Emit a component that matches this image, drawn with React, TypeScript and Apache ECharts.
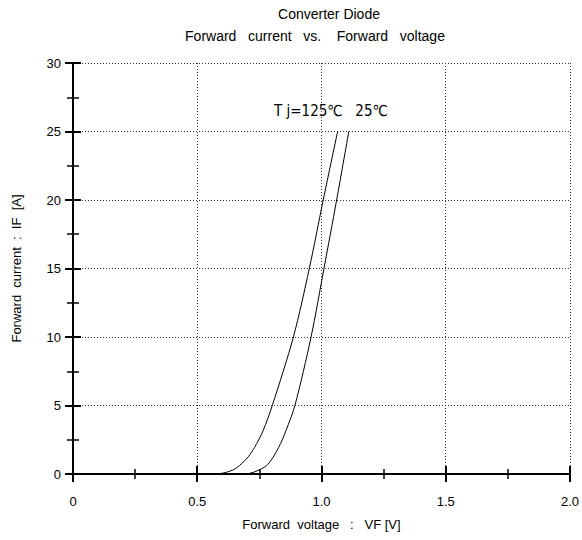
import React, { useEffect, useRef } from "react";
import * as echarts from "echarts";

const titleLines = ["Converter Diode", "Forward   current   vs.    Forward   voltage"];
const xAxisName = "Forward  voltage   :   VF [V]";
const yAxisName = "Forward  current  :  IF  [A]";
const xTicks = [0, 0.5, 1.0, 1.5, 2.0];
const xTickLabels = ["0", "0.5", "1.0", "1.5", "2.0"];
const yTicks = [0, 5, 10, 15, 20, 25, 30];
const tempLabel = "T j=125℃   25℃";

// Forward voltage (V) vs forward current (A)
const vf125 = [0.55, 0.59, 0.612, 0.65, 0.677, 0.705, 0.731, 0.765, 0.802, 0.887, 0.951, 1.007, 1.065];
const if125 = [0, 0.03, 0.1, 0.35, 0.73, 1.25, 1.95, 3.16, 5, 10, 15, 20, 25];
const vf25 = [0.69, 0.712, 0.75, 0.786, 0.828, 0.857, 0.893, 0.958, 1.01, 1.061, 1.11];
const if25 = [0, 0.05, 0.3, 0.73, 1.95, 3.16, 5, 10, 15, 20, 25];

const FONT = "'Liberation Sans', Arial, sans-serif";

export default function App() {
  const ref = useRef<HTMLDivElement>(null);
  useEffect(() => {
    if (!ref.current) return;
    const chart = echarts.init(ref.current, null, { renderer: "svg" });
    const grid = { left: 73, right: 11, top: 63, bottom: 66 };
    const axisLine = { show: true, lineStyle: { color: "#000", width: 2 } };
    const splitLine = { show: true, lineStyle: { color: "#333", type: [1, 2] as any, width: 1 } };
    const xCommon = {
      type: "value" as const,
      min: 0,
      max: 2,
      interval: 0.5,
      axisLine,
      axisTick: { show: true, inside: true, length: 8, lineStyle: { color: "#000", width: 2 } },
      minorTick: { show: true, splitNumber: 2, length: 5, lineStyle: { color: "#000", width: 1.5 } },
    };
    const yCommon = {
      type: "value" as const,
      min: 0,
      max: 30,
      interval: 5,
      axisLine,
      axisTick: { show: true, inside: true, length: 8, lineStyle: { color: "#000", width: 2 } },
      minorTick: { show: true, splitNumber: 2, length: 6, lineStyle: { color: "#000", width: 1.5 } },
    };
    chart.setOption({
      animation: false,
      backgroundColor: "#fff",
      grid,
      xAxis: [
        {
          ...xCommon,
          position: "bottom",
          splitLine,
          axisLabel: {
            color: "#000",
            fontSize: 13,
            fontFamily: FONT,
            margin: 21,
            formatter: (v: number) => {
              const i = xTicks.findIndex((t) => Math.abs(t - v) < 1e-6);
              return i >= 0 ? xTickLabels[i] : "";
            },
          },
          name: xAxisName,
          nameLocation: "middle",
          nameGap: 44,
          nameTextStyle: { color: "#000", fontSize: 13, fontFamily: FONT },
        },
        {
          ...xCommon,
          position: "top",
          splitLine: { show: false },
          axisLabel: { show: false },
        },
      ],
      yAxis: [
        {
          ...yCommon,
          position: "left",
          splitLine,
          axisLabel: {
            color: "#000",
            fontSize: 13,
            fontFamily: FONT,
            margin: 12,
            formatter: (v: number) => (yTicks.includes(v) ? String(v) : ""),
          },
          name: yAxisName,
          nameLocation: "middle",
          nameGap: 50,
          nameRotate: 90,
          nameTextStyle: { color: "#000", fontSize: 13, fontFamily: FONT },
        },
        {
          ...yCommon,
          position: "right",
          splitLine: { show: false },
          axisLabel: { show: false },
        },
      ],
      graphic: [
        {
          type: "text",
          x: 329,
          y: 14,
          style: {
            text: titleLines[0],
            fill: "#000",
            font: `14px ${FONT}`,
            align: "center",
            verticalAlign: "middle",
          },
        },
        {
          type: "text",
          x: 315,
          y: 36,
          style: {
            text: titleLines[1],
            fill: "#000",
            font: `14px ${FONT}`,
            align: "center",
            verticalAlign: "middle",
          },
        },
        {
          type: "text",
          x: 274,
          y: 111,
          style: {
            text: tempLabel,
            fill: "#000",
            font: `15px 'DejaVu Sans Condensed', 'DejaVu Sans', sans-serif`,
            verticalAlign: "middle",
          },
        },
      ],
      series: [
        {
          name: "Tj=125",
          type: "line",
          smooth: 0.3,
          symbol: "none",
          lineStyle: { color: "#000", width: 1 },
          data: vf125.map((v, i) => [v, if125[i]]),
        },
        {
          name: "Tj=25",
          type: "line",
          smooth: 0.3,
          symbol: "none",
          lineStyle: { color: "#000", width: 1 },
          data: vf25.map((v, i) => [v, if25[i]]),
        },
      ],
    });
    return () => chart.dispose();
  }, []);
  return (
    <div
      ref={ref}
      style={{ position: "absolute", left: 0, top: 0, width: 582, height: 540 }}
    />
  );
}
